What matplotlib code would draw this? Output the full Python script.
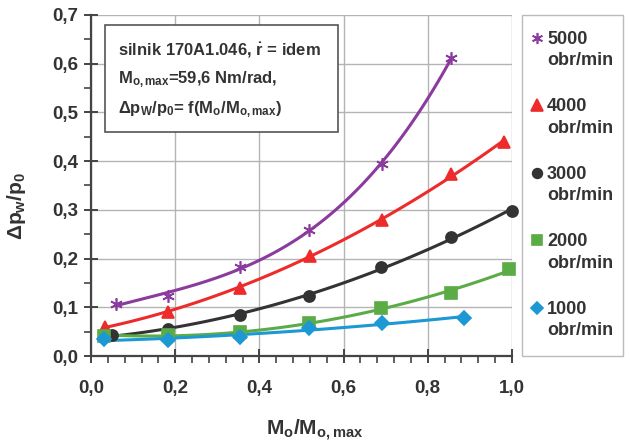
import numpy as np
import matplotlib
matplotlib.use('Agg')
import matplotlib.pyplot as plt
from matplotlib.ticker import MultipleLocator, FuncFormatter
from matplotlib.patches import Rectangle

plt.rcParams['font.family'] = ['Liberation Sans', 'DejaVu Sans']
plt.rcParams['font.weight'] = 'bold'
plt.rcParams['axes.labelweight'] = 'bold'
plt.rcParams['mathtext.fontset'] = 'custom'
plt.rcParams['mathtext.rm'] = 'Liberation Sans:weight=bold'
plt.rcParams['mathtext.it'] = 'Liberation Sans:weight=bold'
plt.rcParams['mathtext.bf'] = 'Liberation Sans:weight=bold'
plt.rcParams['mathtext.default'] = 'bf'

# dane
x5000 = [0.060, 0.182, 0.353, 0.519, 0.691, 0.855]
y5000 = [0.106, 0.124, 0.183, 0.259, 0.394, 0.611]
x4000 = [0.034, 0.184, 0.353, 0.521, 0.691, 0.855, 0.982]
y4000 = [0.060, 0.091, 0.140, 0.206, 0.279, 0.374, 0.440]
x3000 = [0.051, 0.182, 0.353, 0.519, 0.689, 0.855, 1.000]
y3000 = [0.043, 0.055, 0.084, 0.124, 0.182, 0.245, 0.298]
x2000 = [0.032, 0.182, 0.353, 0.519, 0.689, 0.855, 0.992]
y2000 = [0.042, 0.043, 0.049, 0.067, 0.099, 0.129, 0.178]
x1000 = [0.032, 0.184, 0.353, 0.519, 0.691, 0.887]
y1000 = [0.035, 0.032, 0.040, 0.058, 0.067, 0.079]

labels = ['5000\nobr/min', '4000\nobr/min', '3000\nobr/min', '2000\nobr/min', '1000\nobr/min']
colors = ['#8b3a9e', '#ee2b2b', '#333333', '#5bab47', '#1c98d4']
markers = [(6, 2, 0), '^', 'o', 's', 'D']
msizes = [9, 9, 8, 8, 7]
degs = [3, 2, 2, 2, 2]
series = [(x5000, y5000), (x4000, y4000), (x3000, y3000), (x2000, y2000), (x1000, y1000)]

W, H = 630, 444
fig = plt.figure(figsize=(W / 100, H / 100), dpi=100)
ax = fig.add_axes([91 / W, 1 - 356 / H, 421 / W, 341 / H])

# linie trendu + punkty
for (xs, ys), c, m, ms, d in zip(series, colors, markers, msizes, degs):
    p = np.polyfit(xs, ys, d)
    xx = np.linspace(min(xs), max(xs), 100)
    ax.plot(xx, np.polyval(p, xx), color=c, lw=2.2, zorder=3)
    ax.plot(xs, ys, ls='none', marker=m, color=c, ms=ms, mew=1.2, zorder=4, clip_on=False)

ax.set_xlim(0, 1.0)
ax.set_ylim(0, 0.7)
ax.xaxis.set_major_locator(MultipleLocator(0.2))
ax.xaxis.set_minor_locator(MultipleLocator(0.04))
ax.yaxis.set_major_locator(MultipleLocator(0.1))
ax.yaxis.set_minor_locator(MultipleLocator(0.05))
fmt = FuncFormatter(lambda v, pos: ('%.1f' % v).replace('.', ','))
ax.xaxis.set_major_formatter(fmt)
ax.yaxis.set_major_formatter(fmt)
ax.grid(True, which='major', color='#b4b4b4', lw=1.0)
ax.set_axisbelow(True)

for s in ['top', 'right']:
    ax.spines[s].set_visible(False)
for s in ['left', 'bottom']:
    ax.spines[s].set_color('#444444')
    ax.spines[s].set_linewidth(1.6)

ax.tick_params(axis='x', which='major', direction='inout', length=10, width=1.4,
               color='#444444', pad=12, labelsize=13.5, labelcolor='#333333')
ax.tick_params(axis='x', which='minor', direction='out', length=5, width=1.2, color='#444444')
ax.tick_params(axis='y', which='major', direction='inout', length=10, width=1.4,
               color='#444444', pad=4, labelsize=13.5, labelcolor='#333333')
ax.tick_params(axis='y', which='minor', direction='out', length=5, width=1.2, color='#444444')

ax.set_xlabel(r'M$_\mathbf{o}$/M$_\mathbf{o,max}$', fontsize=15, color='#333333', va='top')
ax.xaxis.set_label_coords(0.53, -0.18)
ax.set_ylabel(r'$\Delta$p$_\mathbf{w}$/p$_\mathbf{0}$', fontsize=15, color='#333333')
ax.yaxis.set_label_coords(-0.15, 0.44)

# ramka z opisem
ax.add_patch(Rectangle((0.033, 0.657), 0.554, 0.314, transform=ax.transAxes,
                       fc='white', ec='#555555', lw=1.2, zorder=5, clip_on=False))
info = ['silnik 170A1.046, $\\dot{\\mathbf{r}}$ = idem',
        'M$_\\mathbf{o,max}$=59,6 Nm/rad,',
        '$\\Delta$p$_\\mathbf{W}$/p$_\\mathbf{0}$= f(M$_\\mathbf{o}$/M$_\\mathbf{o,max}$)']
for i, t in enumerate(info):
    ax.text(0.064, 0.897 - i * 0.088, t, transform=ax.transAxes, fontsize=12,
            color='#333333', va='center', ha='left', zorder=6)

# legenda
fig.patches.append(Rectangle((522 / W, 1 - 356 / H), 101 / W, 341 / H, transform=fig.transFigure,
                             fc='white', ec='#bbbbbb', lw=1.0))
for i, (lab, c, m, ms) in enumerate(zip(labels, colors, markers, msizes)):
    yl = 1 - (38 + i * 67.5) / H
    fig.add_artist(plt.Line2D([537 / W], [yl], ls='none', marker=m, color=c, ms=ms - 1,
                              mew=1.2, transform=fig.transFigure))
    fig.text(547 / W, 1 - (50 + i * 67.5) / H, lab, fontsize=13, color='#333333',
             va='center', ha='left', linespacing=1.33)

fig.savefig('out.png', dpi=100)
